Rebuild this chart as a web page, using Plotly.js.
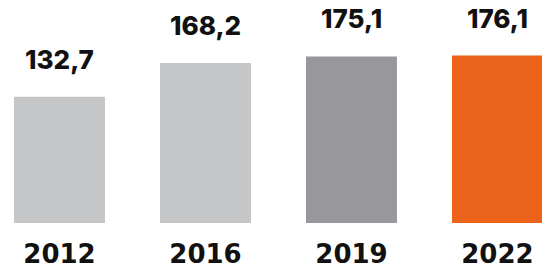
<!DOCTYPE html>
<html><head><meta charset="utf-8">
<script src="https://cdn.plot.ly/plotly-3.0.1.min.js"></script>
<style>html,body{margin:0;padding:0;background:#fff;}#chart{width:542px;height:264px;}</style>
</head><body><div id="chart"></div>
<script>
const years = ["2012", "2016", "2019", "2022"];
const values = [132.7, 168.2, 175.1, 176.1];
const colors = ["#c5c6c8", "#c5c6c8", "#98979c", "#ec641c"];
const valueLabels = values.map(v => v.toFixed(1).replace(".", ","));

const VALUE_FONT = "Inter, 'Open Sans', sans-serif";
const YEAR_FONT = "'DejaVu Sans', sans-serif";
const idx = years.map((_, i) => i);

const trace = {
  type: "bar",
  x: idx,
  y: values,
  width: 0.623,
  marker: {color: colors, line: {width: 0}},
  hoverinfo: "none"
};

const annotations = values.map((v, i) => ({
  x: i, y: v, xref: "x", yref: "y",
  text: valueLabels[i],
  showarrow: false, yanchor: "bottom", yshift: 20,
  font: {family: VALUE_FONT, size: 26, color: "#111111", weight: 800}
}));

const layout = {
  width: 542, height: 264,
  margin: {l: 0, r: 0, t: 0, b: 41},
  paper_bgcolor: "#ffffff", plot_bgcolor: "#ffffff",
  showlegend: false,
  xaxis: {
    range: [-0.4075, 3.305],
    tickvals: idx, ticktext: years,
    showgrid: false, zeroline: false, showline: false, ticks: "",
    ticklabelstandoff: 13,
    tickfont: {family: YEAR_FONT, size: 26, color: "#111111", weight: 700},
    fixedrange: true
  },
  yaxis: {
    range: [0, 234.5], visible: false, showgrid: false, zeroline: false, fixedrange: true
  },
  annotations: annotations
};

Plotly.newPlot("chart", [trace], layout, {displayModeBar: false, staticPlot: true});
</script></body></html>
